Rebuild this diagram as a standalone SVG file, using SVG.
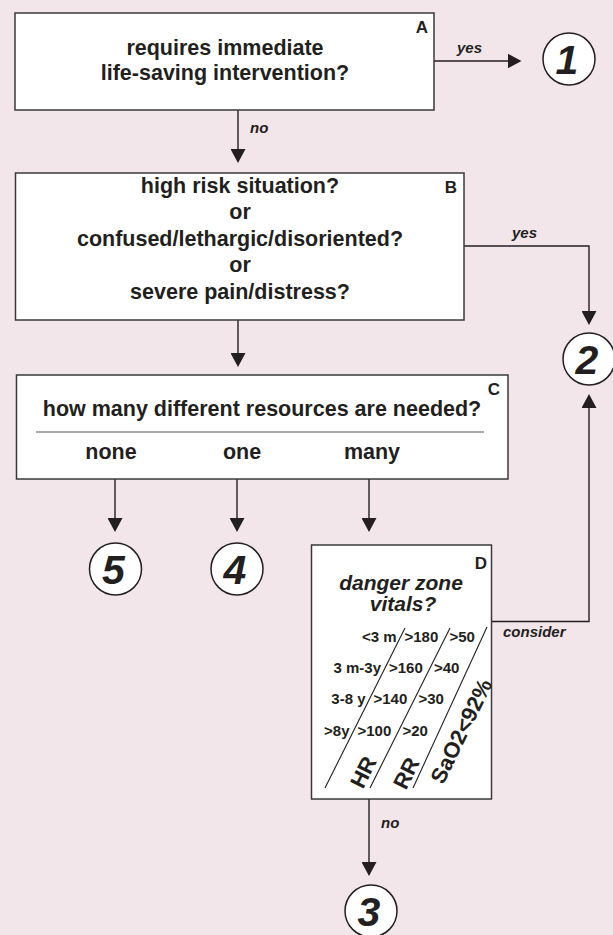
<svg xmlns="http://www.w3.org/2000/svg" width="613" height="935" viewBox="0 0 613 935">
<defs>
<marker id="ah" markerUnits="userSpaceOnUse" markerWidth="14" markerHeight="15" refX="12" refY="7.5" orient="auto">
<path d="M0,0 L14,7.5 L0,15 z" fill="#231f20"/>
</marker>
<style>
.box{fill:#fff;stroke:#3a3a3a;stroke-width:1.5}
.t{font-family:"Liberation Sans",Arial,sans-serif;font-weight:bold;fill:#231f20}
.m{font-size:21.5px;text-anchor:middle}
.lab{font-size:17px;text-anchor:end}
.el{font-family:"Liberation Sans",Arial,sans-serif;font-weight:bold;font-style:italic;font-size:15px;fill:#231f20}
.num{font-family:"Liberation Sans",Arial,sans-serif;font-weight:bold;font-style:italic;font-size:41px;text-anchor:middle;fill:#231f20}
.circ{fill:#fff;stroke:#231f20;stroke-width:1.5}
.c{fill:none;stroke:#231f20;stroke-width:1.4}
.tb{font-size:15px}
.sl{stroke:#231f20;stroke-width:1.1}
.rot{font-size:22px;text-anchor:middle}
</style>
</defs>
<rect width="613" height="935" fill="#f3e6ea"/>
<g id="connectors">
<path class="c" d="M434,61 H519.5" marker-end="url(#ah)"/>
<path class="c" d="M238,110 V161" marker-end="url(#ah)"/>
<path class="c" d="M464,246 H589 V323" marker-end="url(#ah)"/>
<path class="c" d="M238,320 V365" marker-end="url(#ah)"/>
<path class="c" d="M115,479 V530" marker-end="url(#ah)"/>
<path class="c" d="M237,479 V530" marker-end="url(#ah)"/>
<path class="c" d="M369,479 V530" marker-end="url(#ah)"/>
<path class="c" d="M491.5,621.5 H589 V396" marker-end="url(#ah)"/>
<path class="c" d="M369,799 V874" marker-end="url(#ah)"/>
<text class="el" x="457" y="53">yes</text>
<text class="el" x="250" y="133">no</text>
<text class="el" x="512" y="238">yes</text>
<text class="el" x="503" y="637">consider</text>
<text class="el" x="381" y="828">no</text>
</g>
<g id="nodeA">
<rect class="box" x="15" y="13" width="419" height="97"/>
<text class="t lab" x="428" y="33">A</text>
<text class="t m" x="225" y="55">requires immediate</text>
<text class="t m" x="225" y="80">life-saving intervention?</text>
</g>
<g id="nodeB">
<rect class="box" x="15.5" y="173" width="448.5" height="147"/>
<text class="t lab" x="457" y="193">B</text>
<text class="t m" x="240" y="192.5">high risk situation?</text>
<text class="t m" x="240" y="219">or</text>
<text class="t m" x="240" y="245.5">confused/lethargic/disoriented?</text>
<text class="t m" x="240" y="272">or</text>
<text class="t m" x="240" y="298.5">severe pain/distress?</text>
</g>
<g id="nodeC">
<rect class="box" x="16.5" y="375" width="491.5" height="104"/>
<text class="t lab" x="500" y="395">C</text>
<text class="t m" x="262" y="416">how many different resources are needed?</text>
<line x1="36" y1="432" x2="484" y2="432" stroke="#555" stroke-width="1.2"/>
<text class="t m" x="111" y="459">none</text>
<text class="t m" x="242" y="459">one</text>
<text class="t m" x="372" y="459">many</text>
</g>
<g id="nodeD">
<rect class="box" x="311.5" y="545" width="180" height="254"/>
<text class="t lab" x="487" y="568.5">D</text>
<text class="t m" x="401" y="590" font-style="italic" style="font-size:21px">danger zone</text>
<text class="t m" x="403" y="611" font-style="italic" style="font-size:21px">vitals?</text>
<line class="sl" x1="405" y1="628" x2="325" y2="788" stroke-width="1.6"/>
<line class="sl" x1="450" y1="628" x2="370" y2="788"/>
<line class="sl" x1="487" y1="627" x2="413" y2="788"/>
<g class="t tb" text-anchor="end">
<text x="396.5" y="642">&lt;3 m</text>
<text x="381" y="673">3 m-3y</text>
<text x="365.5" y="704">3-8 y</text>
<text x="349.5" y="736">&gt;8y</text>
</g>
<g class="t tb">
<text x="404.5" y="642">&gt;180</text>
<text x="389" y="673">&gt;160</text>
<text x="373.5" y="704">&gt;140</text>
<text x="357.5" y="736">&gt;100</text>
<text x="449.5" y="642">&gt;50</text>
<text x="434" y="673">&gt;40</text>
<text x="418.5" y="704">&gt;30</text>
<text x="402.5" y="736">&gt;20</text>
</g>
<text class="t rot" transform="translate(363,772) rotate(-63.4)" dy="0.36em">HR</text>
<text class="t rot" transform="translate(406,773) rotate(-63.4)" dy="0.36em">RR</text>
<text class="t rot" transform="translate(461,731) rotate(-64)" dy="0.36em">SaO2&lt;92%</text>
</g>
<g id="circle1"><circle class="circ" cx="569" cy="59" r="26"/><text class="num" x="567" y="73.5">1</text></g>
<g id="circle2"><circle class="circ" cx="589" cy="359" r="26"/><text class="num" x="587" y="373.5">2</text></g>
<g id="circle3"><circle class="circ" cx="371" cy="911" r="26"/><text class="num" x="369" y="925.5">3</text></g>
<g id="circle4"><circle class="circ" cx="237" cy="569" r="26"/><text class="num" x="235" y="583.5">4</text></g>
<g id="circle5"><circle class="circ" cx="115.5" cy="569" r="26"/><text class="num" x="113.5" y="583.5">5</text></g>
</svg>
